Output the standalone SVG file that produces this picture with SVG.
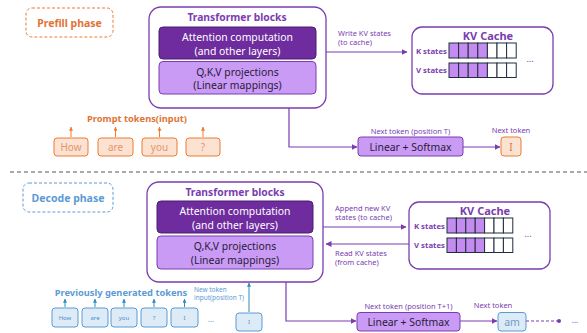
<svg xmlns="http://www.w3.org/2000/svg" width="587" height="333" viewBox="0 0 587 333">
  <defs>
    <marker id="arrP" viewBox="0 0 6 6" refX="5.5" refY="3" markerWidth="5" markerHeight="5" orient="auto">
      <path d="M0,0 L6,3 L0,6 z" fill="#7a3db0"/>
    </marker>
    <marker id="arrO" viewBox="0 0 6 6" refX="5.5" refY="3" markerWidth="4" markerHeight="4" orient="auto">
      <path d="M0,0 L6,3 L0,6 z" fill="#ed7d31"/>
    </marker>
    <marker id="arrB" viewBox="0 0 6 6" refX="5.5" refY="3" markerWidth="4" markerHeight="4" orient="auto">
      <path d="M0,0 L6,3 L0,6 z" fill="#2e8bc0"/>
    </marker>
    <marker id="dot" viewBox="0 0 6 6" refX="3" refY="3" markerWidth="4" markerHeight="4">
      <circle cx="3" cy="3" r="2.5" fill="#7a3db0"/>
    </marker>
  </defs>
  <style>
    text { font-family: "Noto Sans", "Liberation Sans", sans-serif; }
    .outer { fill: #fff; stroke: #7a3db0; stroke-width: 1.3; }
    .attn { fill: #6e2c9e; stroke: #4b1d70; stroke-width: 1; }
    .qkv { fill: #c99bf5; stroke: #7a3db0; stroke-width: 1; }
    .title { fill: #7a3db0; font-weight: bold; font-size: 10.3px; text-anchor: middle; }
    .wt { fill: #fff; font-size: 10.4px; text-anchor: middle; }
    .dt { fill: #2a1a3a; font-size: 10.4px; text-anchor: middle; }
    .lbl { fill: #7a3db0; font-size: 7.5px; }
    .lblc { fill: #7a3db0; font-size: 7.5px; text-anchor: middle; }
    .kv { fill: #7a3db0; font-weight: bold; font-size: 7.8px; text-anchor: end; }
    .kvt { fill: #7a3db0; font-weight: bold; font-size: 11px; text-anchor: middle; }
    .cellf { fill: #c48cf0; stroke: #1f2d3d; stroke-width: 1; }
    .celle { fill: #fff; stroke: #1f2d3d; stroke-width: 1; }
    .conn { fill: none; stroke: #7a3db0; stroke-width: 1.2; }
    .otok { fill: #fbe2d2; stroke: #ed7d31; stroke-width: 1; }
    .otxt { fill: #e8956a; font-size: 10px; text-anchor: middle; }
    .btok { fill: #ddebf7; stroke: #5b9bd5; stroke-width: 1; }
    .btxt { fill: #4a8fd3; font-size: 6px; text-anchor: middle; }
    .oarr { stroke: #ed7d31; stroke-width: 1; marker-end: url(#arrO); }
    .barr { stroke: #2e8bc0; stroke-width: 1; marker-end: url(#arrB); }
  </style>

  <!-- ===== Prefill phase ===== -->
  <g id="prefill-label">
    <rect x="26" y="8" width="87" height="29" rx="6" fill="#fff" stroke="#ed7d31" stroke-width="1" stroke-dasharray="3,2"/>
    <text x="69.5" y="27" fill="#e07435" font-size="10.5" font-weight="bold" text-anchor="middle">Prefill phase</text>
  </g>

  <g id="prefill-transformer">
    <rect class="outer" x="149" y="7" width="177" height="101" rx="12"/>
    <text class="title" x="237" y="21">Transformer blocks</text>
    <rect class="attn" x="159" y="27" width="157" height="32" rx="4"/>
    <text class="wt" x="237.5" y="40.5">Attention computation</text>
    <text class="wt" x="237.5" y="54.5">(and other layers)</text>
    <rect class="qkv" x="159" y="61.5" width="157" height="32.5" rx="4"/>
    <text class="dt" x="237.5" y="75.5">Q,K,V projections</text>
    <text class="dt" x="237.5" y="89">(Linear mappings)</text>
  </g>

  <g id="prefill-kvcache">
    <rect class="outer" x="412" y="27" width="141" height="67" rx="10"/>
    <text class="kvt" x="488" y="40">KV Cache</text>
    <text class="kv" x="447" y="53.5">K states</text>
    <text class="kv" x="447" y="72.5">V states</text>
    <g>
      <rect class="cellf" x="449" y="43" width="9.6" height="15"/>
      <rect class="cellf" x="458.6" y="43" width="9.6" height="15"/>
      <rect class="cellf" x="468.2" y="43" width="9.6" height="15"/>
      <rect class="cellf" x="477.8" y="43" width="9.6" height="15"/>
      <rect class="celle" x="487.4" y="43" width="9.6" height="15"/>
      <rect class="celle" x="497" y="43" width="9.6" height="15"/>
      <rect class="celle" x="506.6" y="43" width="9.6" height="15"/>
      <rect class="cellf" x="449" y="63" width="9.6" height="14.5"/>
      <rect class="cellf" x="458.6" y="63" width="9.6" height="14.5"/>
      <rect class="cellf" x="468.2" y="63" width="9.6" height="14.5"/>
      <rect class="cellf" x="477.8" y="63" width="9.6" height="14.5"/>
      <rect class="celle" x="487.4" y="63" width="9.6" height="14.5"/>
      <rect class="celle" x="497" y="63" width="9.6" height="14.5"/>
      <rect class="celle" x="506.6" y="63" width="9.6" height="14.5"/>
    </g>
    <text x="530" y="62" fill="#7a3db0" font-size="9" text-anchor="middle">...</text>
  </g>

  <g id="prefill-linear">
    <rect class="qkv" x="358" y="137" width="105" height="19" rx="3"/>
    <text class="dt" x="410.5" y="150.5">Linear + Softmax</text>
  </g>

  <g id="prefill-next">
    <rect class="otok" x="501" y="137" width="20" height="19" rx="3"/>
    <text x="511" y="150.5" fill="#e07435" font-size="10" text-anchor="middle">I</text>
  </g>

  <g id="prompt-tokens">
    <text x="137" y="122" fill="#e07435" font-size="9.3" font-weight="bold" text-anchor="middle">Prompt tokens(input)</text>
    <rect class="otok" x="54" y="138" width="34" height="18" rx="3"/>
    <text class="otxt" x="71" y="151">How</text>
    <rect class="otok" x="98" y="138" width="35" height="18" rx="3"/>
    <text class="otxt" x="115.5" y="151">are</text>
    <rect class="otok" x="142" y="138" width="35" height="18" rx="3"/>
    <text class="otxt" x="159.5" y="151">you</text>
    <rect class="otok" x="186" y="138" width="34" height="18" rx="3"/>
    <text class="otxt" x="203" y="151">?</text>
  </g>

  <g id="prefill-connectors">
    <line class="oarr" x1="71" y1="137" x2="71" y2="127"/>
    <line class="oarr" x1="115.5" y1="137" x2="115.5" y2="127"/>
    <line class="oarr" x1="159.5" y1="137" x2="159.5" y2="127"/>
    <line class="oarr" x1="203" y1="137" x2="203" y2="127"/>
    <line class="conn" x1="326" y1="52" x2="407" y2="52" marker-end="url(#arrP)"/>
    <polyline class="conn" points="289,108 289,147 357,147" marker-end="url(#arrP)"/>
    <line class="conn" x1="463" y1="147" x2="500" y2="147" marker-end="url(#arrP)"/>
    <text class="lbl" x="338" y="36">Write KV states</text>
    <text class="lbl" x="338" y="45">(to cache)</text>
    <text class="lblc" x="410.5" y="134">Next token (position T)</text>
    <text class="lblc" x="511" y="133">Next token</text>
  </g>

  <!-- separator between phases -->
  <line x1="10" y1="172" x2="587" y2="172" stroke="#555" stroke-width="1" stroke-dasharray="4,3"/>

  <!-- ===== Decode phase ===== -->
  <g id="decode-label">
    <rect x="23" y="183" width="90" height="29" rx="6" fill="#fff" stroke="#5b9bd5" stroke-width="1" stroke-dasharray="3,2"/>
    <text x="68" y="202" fill="#5b9bd5" font-size="10.5" font-weight="bold" text-anchor="middle">Decode phase</text>
  </g>

  <g id="decode-transformer">
    <rect class="outer" x="147" y="182" width="176" height="100" rx="12"/>
    <text class="title" x="235" y="196">Transformer blocks</text>
    <rect class="attn" x="157" y="201" width="156" height="32" rx="4"/>
    <text class="wt" x="235" y="214.5">Attention computation</text>
    <text class="wt" x="235" y="228.5">(and other layers)</text>
    <rect class="qkv" x="157" y="236" width="156" height="33" rx="4"/>
    <text class="dt" x="235" y="250">Q,K,V projections</text>
    <text class="dt" x="235" y="264">(Linear mappings)</text>
  </g>

  <g id="decode-kvcache">
    <rect class="outer" x="409" y="202" width="141" height="67" rx="10"/>
    <text class="kvt" x="485" y="215">KV Cache</text>
    <text class="kv" x="445" y="228.5">K states</text>
    <text class="kv" x="445" y="247.5">V states</text>
    <g>
      <rect class="cellf" x="447" y="218" width="9.4" height="15"/>
      <rect class="cellf" x="456.4" y="218" width="9.4" height="15"/>
      <rect class="cellf" x="465.8" y="218" width="9.4" height="15"/>
      <rect class="cellf" x="475.2" y="218" width="9.4" height="15"/>
      <rect class="celle" x="484.6" y="218" width="9.4" height="15"/>
      <rect class="celle" x="494" y="218" width="9.4" height="15"/>
      <rect class="celle" x="503.4" y="218" width="9.4" height="15"/>
      <rect class="cellf" x="447" y="238" width="9.4" height="14.5"/>
      <rect class="cellf" x="456.4" y="238" width="9.4" height="14.5"/>
      <rect class="cellf" x="465.8" y="238" width="9.4" height="14.5"/>
      <rect class="cellf" x="475.2" y="238" width="9.4" height="14.5"/>
      <rect class="celle" x="484.6" y="238" width="9.4" height="14.5"/>
      <rect class="celle" x="494" y="238" width="9.4" height="14.5"/>
      <rect class="celle" x="503.4" y="238" width="9.4" height="14.5"/>
    </g>
    <text x="528" y="237" fill="#7a3db0" font-size="9" text-anchor="middle">...</text>
  </g>

  <g id="decode-linear">
    <rect class="qkv" x="357" y="312.5" width="103" height="18.5" rx="3"/>
    <text class="dt" x="408.5" y="325.5">Linear + Softmax</text>
  </g>

  <g id="decode-next">
    <rect class="btok" x="498" y="312.5" width="28" height="18.5" rx="3"/>
    <text x="512" y="325.5" fill="#6f9cc8" font-size="10.5" text-anchor="middle">am</text>
  </g>

  <g id="generated-tokens">
    <text x="121" y="296" fill="#5b9bd5" font-size="9.3" font-weight="bold" text-anchor="middle">Previously generated tokens</text>
    <rect class="btok" x="52" y="308" width="26" height="19" rx="3"/>
    <text class="btxt" x="65" y="319.5">How</text>
    <rect class="btok" x="82" y="308" width="26" height="19" rx="3"/>
    <text class="btxt" x="95" y="319.5">are</text>
    <rect class="btok" x="111" y="308" width="26" height="19" rx="3"/>
    <text class="btxt" x="124" y="319.5">you</text>
    <rect class="btok" x="141" y="308" width="26" height="19" rx="3"/>
    <text class="btxt" x="154" y="319.5">?</text>
    <rect class="btok" x="171" y="308" width="27" height="19" rx="3"/>
    <text class="btxt" x="184.5" y="319.5">I</text>
    <text x="211" y="322" fill="#5b9bd5" font-size="8" text-anchor="middle">...</text>
  </g>

  <g id="new-token">
    <rect class="btok" x="236" y="313" width="26" height="18" rx="3"/>
    <text class="btxt" x="249" y="324">I</text>
    <text x="194" y="292" fill="#5b9bd5" font-size="6.5">New token</text>
    <text x="194" y="300" fill="#5b9bd5" font-size="6.5">input(position T)</text>
  </g>

  <g id="decode-connectors">
    <line class="barr" x1="65" y1="307" x2="65" y2="299"/>
    <line class="barr" x1="95" y1="307" x2="95" y2="299"/>
    <line class="barr" x1="124" y1="307" x2="124" y2="299"/>
    <line class="barr" x1="154" y1="307" x2="154" y2="299"/>
    <line class="barr" x1="184.5" y1="307" x2="184.5" y2="299"/>
    <line class="barr" x1="249" y1="312" x2="249" y2="283"/>
    <line class="conn" x1="323" y1="227" x2="406" y2="227" marker-end="url(#arrP)"/>
    <line class="conn" x1="409" y1="244" x2="326" y2="244" marker-end="url(#arrP)"/>
    <polyline class="conn" points="286,282 286,321 356,321" marker-end="url(#arrP)"/>
    <line class="conn" x1="460" y1="321" x2="497" y2="321" marker-end="url(#arrP)"/>
    <line class="conn" x1="526" y1="321" x2="559" y2="321" stroke-dasharray="3,2" marker-end="url(#dot)"/>
    <text x="575" y="323" fill="#7a3db0" font-size="8" text-anchor="middle">...</text>
    <text class="lbl" x="335" y="211">Append new KV</text>
    <text class="lbl" x="335" y="220">states (to cache)</text>
    <text class="lbl" x="335" y="256">Read KV states</text>
    <text class="lbl" x="335" y="265">(from cache)</text>
    <text class="lblc" x="408.5" y="309">Next token (position T+1)</text>
    <text class="lblc" x="493" y="308">Next token</text>
  </g>
</svg>
